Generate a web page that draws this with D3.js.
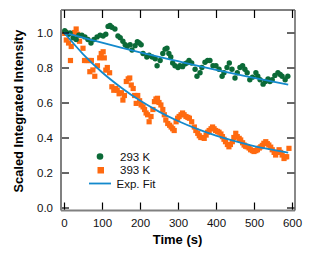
<!DOCTYPE html>
<html>
<head>
<meta charset="utf-8">
<script src="https://cdn.jsdelivr.net/npm/d3@7"></script>
<style>
  body { margin: 0; background: #fff; }
  svg text { font-family: "Liberation Sans", Arial, sans-serif; }
</style>
</head>
<body>
<div id="chart"></div>
<script>
// 293 K points: [time (s), scaled intensity]
var pts293 = [
  [2,1.01],[6,1.0],[12,0.99],[16,0.997],[24,0.97],[32,0.96],[39,0.985],[47,0.985],
  [55,0.975],[63,0.96],[71,0.94],[79,0.96],[87,0.975],[95,0.985],[103,0.98],[110,0.99],
  [116,1.035],[121,1.04],[126,1.03],[134,1.02],[142,0.98],[148,0.97],[155,0.95],[161,0.93],
  [166,0.92],[174,0.93],[179,0.90],[187,0.925],[193,0.947],[198,0.94],[203,0.93],[208,0.88],
  [218,0.86],[224,0.87],[232,0.86],[240,0.85],[245,0.81],[253,0.84],[260,0.88],[266,0.905],
  [271,0.91],[276,0.88],[281,0.86],[286,0.826],[292,0.81],[300,0.80],[305,0.81],[312,0.805],
  [318,0.82],[323,0.826],[329,0.84],[336,0.826],[345,0.79],[350,0.75],[358,0.77],[363,0.80],
  [371,0.83],[378,0.84],[384,0.84],[392,0.81],[400,0.81],[408,0.79],[416,0.75],[421,0.77],
  [429,0.80],[435,0.826],[442,0.79],[450,0.74],[456,0.77],[463,0.80],[470,0.81],[476,0.79],
  [482,0.77],[489,0.73],[496,0.745],[505,0.77],[510,0.75],[516,0.73],[524,0.705],[530,0.72],
  [537,0.735],[542,0.72],[548,0.73],[555,0.755],[563,0.77],[569,0.76],[574,0.75],[582,0.73],
  [589,0.75]
];

// 393 K points
var pts393 = [
  [2,0.995],[4,1.0],[6,0.957],[12,0.94],[17,0.84],[19,0.92],[28,1.0],[32,1.02],[36,0.99],
  [41,0.95],[50,0.91],[54,0.84],[59,0.84],[66,0.84],[68,0.776],[72,0.84],[76,0.786],[81,0.75],
  [88,0.81],[94,0.855],[98,0.88],[103,0.89],[106,0.855],[110,0.785],[114,0.80],[120,0.77],
  [126,0.69],[131,0.67],[136,0.68],[140,0.67],[145,0.65],[151,0.656],[155,0.614],[159,0.64],
  [164,0.72],[169,0.735],[173,0.74],[177,0.70],[182,0.68],[186,0.64],[190,0.595],[194,0.64],
  [199,0.61],[203,0.586],[208,0.575],[212,0.56],[216,0.54],[220,0.53],[224,0.49],[229,0.52],
  [234,0.56],[238,0.605],[242,0.62],[246,0.624],[250,0.60],[255,0.586],[260,0.56],[264,0.53],
  [268,0.50],[273,0.48],[278,0.47],[282,0.46],[286,0.45],[290,0.44],[295,0.49],[299,0.51],
  [303,0.52],[308,0.53],[312,0.54],[316,0.53],[321,0.52],[326,0.515],[330,0.51],[336,0.49],
  [343,0.46],[347,0.44],[352,0.424],[356,0.41],[360,0.40],[365,0.40],[369,0.395],[374,0.414],
  [378,0.43],[382,0.44],[387,0.45],[391,0.46],[395,0.45],[399,0.44],[404,0.435],[408,0.43],
  [413,0.42],[417,0.405],[421,0.39],[425,0.376],[430,0.36],[434,0.347],[438,0.36],[443,0.376],
  [447,0.40],[452,0.424],[456,0.405],[461,0.395],[465,0.386],[470,0.37],[474,0.357],[478,0.35],
  [482,0.347],[487,0.34],[491,0.33],[496,0.325],[500,0.32],[505,0.325],[509,0.33],[514,0.34],
  [518,0.347],[522,0.355],[526,0.367],[531,0.376],[535,0.365],[539,0.357],[544,0.345],[548,0.33],
  [553,0.315],[557,0.30],[562,0.315],[566,0.33],[570,0.315],[574,0.30],[579,0.28],[583,0.29],
  [586,0.29],[592,0.338]
];

// exponential fit curves
var fitTimes = [0, 50, 100, 150, 200, 250, 300, 350, 400, 450, 500, 550, 590];
var fit293 = [1.0, 0.971, 0.942, 0.914, 0.887, 0.861, 0.836, 0.811, 0.787, 0.764, 0.741, 0.719, 0.702];
var fit393 = [1.0, 0.877, 0.773, 0.686, 0.611, 0.548, 0.494, 0.449, 0.411, 0.379, 0.351, 0.329, 0.313];

var xTicks = [0, 100, 200, 300, 400, 500, 600];
var yTicks = [0.0, 0.2, 0.4, 0.6, 0.8, 1.0];
var legendLabels = ["293 K", "393 K", "Exp. Fit"];

var width = 321, height = 257;
var margin = {top: 10, right: 26, bottom: 46.5, left: 61};
var w = width - margin.left - margin.right;
var h = height - margin.top - margin.bottom;

var green = "#0b6a37", orange = "#ff6a10", blue = "#1389cc";

var svg = d3.select("#chart").append("svg")
  .attr("width", width)
  .attr("height", height);

var g = svg.append("g")
  .attr("transform", "translate(" + margin.left + "," + margin.top + ")");

var x = d3.scaleLinear().domain([-7.9, 607.9]).range([0, w]);
var y = d3.scaleLinear().domain([-0.0171, 1.1286]).range([h, 0]);

// data points
g.selectAll(".sq")
  .data(pts393)
  .enter().append("rect")
  .attr("class", "sq")
  .attr("x", d => x(d[0]) - 2.6)
  .attr("y", d => y(d[1]) - 2.6)
  .attr("width", 5.2)
  .attr("height", 5.2)
  .style("fill", orange);

g.selectAll(".dot")
  .data(pts293)
  .enter().append("circle")
  .attr("class", "dot")
  .attr("cx", d => x(d[0]))
  .attr("cy", d => y(d[1]))
  .attr("r", 2.7)
  .style("fill", green);

// fit lines
var line = d3.line()
  .x(d => x(d[0]))
  .y(d => y(d[1]))
  .curve(d3.curveMonotoneX);

[fit293, fit393].forEach(function(f) {
  g.append("path")
    .datum(fitTimes.map((t, i) => [t, f[i]]))
    .attr("d", line)
    .style("fill", "none")
    .style("stroke", blue)
    .style("stroke-width", 1.8);
});

// axes (ticks pointing inward)
var tk = 8;
function styleAxis(sel) {
  sel.select(".domain").remove();
  sel.selectAll(".tick line").style("stroke", "#000").style("stroke-width", 1.2);
  sel.selectAll("text").style("font-size", "11.5px").style("fill", "#111");
}

g.append("g")
  .attr("transform", "translate(0," + h + ")")
  .call(d3.axisBottom(x).tickValues(xTicks).tickSizeInner(-tk).tickSizeOuter(0).tickPadding(8))
  .call(styleAxis);

g.append("g")
  .call(d3.axisTop(x).tickValues(xTicks).tickSizeInner(-tk).tickSizeOuter(0).tickFormat(""))
  .call(styleAxis);

g.append("g")
  .call(d3.axisLeft(y).tickValues(yTicks).tickSizeInner(-tk).tickSizeOuter(0)
    .tickFormat(d3.format(".1f")).tickPadding(8))
  .call(styleAxis);

g.append("g")
  .attr("transform", "translate(" + w + ",0)")
  .call(d3.axisRight(y).tickValues(yTicks).tickSizeInner(-tk).tickSizeOuter(0).tickFormat(""))
  .call(styleAxis);

// frame
g.append("line").attr("x1", 0).attr("x2", w).attr("y1", 0).attr("y2", 0)
  .style("stroke", "#000").style("stroke-width", 1);
g.append("line").attr("x1", 0).attr("x2", 0).attr("y1", 0).attr("y2", h)
  .style("stroke", "#808080").style("stroke-width", 2);
g.append("line").attr("x1", 0).attr("x2", w).attr("y1", h).attr("y2", h)
  .style("stroke", "#808080").style("stroke-width", 2);
g.append("line").attr("x1", w).attr("x2", w).attr("y1", 0).attr("y2", h)
  .style("stroke", "#606060").style("stroke-width", 1.5);

// axis titles
svg.append("text")
  .attr("transform", "translate(22.5,111) rotate(-90)")
  .attr("text-anchor", "middle")
  .style("font-size", "12.8px")
  .style("font-weight", "bold")
  .text("Scaled Integrated Intensity");

svg.append("text")
  .attr("x", 177.5)
  .attr("y", 244)
  .attr("text-anchor", "middle")
  .style("font-size", "13px")
  .style("font-weight", "bold")
  .text("Time (s)");

// legend
var leg = svg.append("g");
leg.append("circle").attr("cx", 100).attr("cy", 156.5).attr("r", 3.3).style("fill", green);
leg.append("rect").attr("x", 97.5).attr("y", 167).attr("width", 6.5).attr("height", 6.5).style("fill", orange);
leg.append("line").attr("x1", 89).attr("x2", 111).attr("y1", 183.5).attr("y2", 183.5)
  .style("stroke", blue).style("stroke-width", 1.8);
leg.selectAll("text")
  .data(legendLabels)
  .enter().append("text")
  .attr("x", (d, i) => i < 2 ? 120 : 116.5)
  .attr("y", (d, i) => 160.5 + i * 13.5)
  .style("font-size", "11.5px")
  .style("fill", "#111")
  .text(d => d);
</script>
</body>
</html>
